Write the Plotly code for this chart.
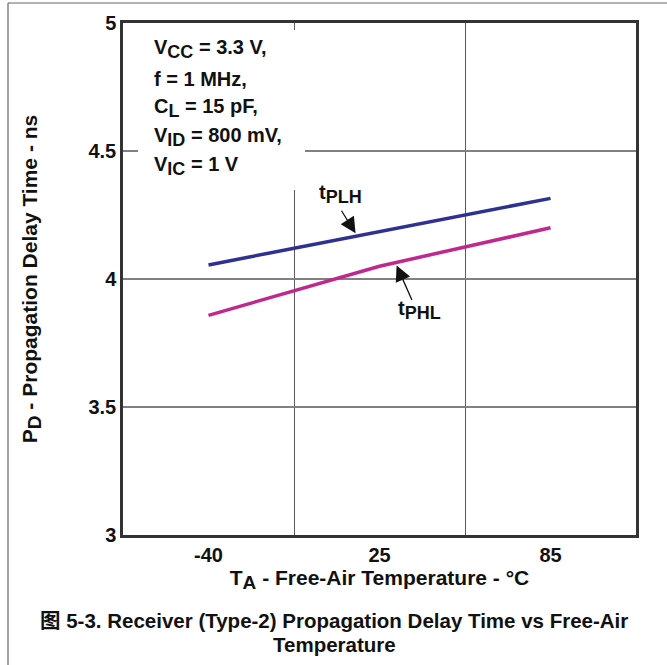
import numpy as np
import plotly.graph_objects as go

# ---- data ----
temps = ["-40", "25", "85"]              # T_A categories (°C)
t_plh = [4.055, 4.185, 4.315]            # ns
t_phl = [3.858, 4.050, 4.200]            # ns
y_ticks = [3, 3.5, 4, 4.5, 5]
y_ticktext = ["3", "3.5", "4", "4.5", "5"]


def sub(s, size):
    return f"<sub><span style='font-size:{size}px'>{s}</span></sub>"


conditions = ["V" + sub("CC", 18) + " = 3.3 V,", "f = 1 MHz,", "C" + sub("L", 18) + " = 15 pF,",
              "V" + sub("ID", 18) + " = 800 mV,", "V" + sub("IC", 18) + " = 1 V"]

FONT = "Liberation Sans, Arial, Noto Sans CJK SC, sans-serif"
BLUE = "#2e3192"
PINK = "#c0288f"
INK = "#111111"

fig = go.Figure()
fig.add_trace(go.Scatter(x=temps, y=t_plh, mode="lines", name="tPLH",
                         line=dict(color=BLUE, width=3.5)))
fig.add_trace(go.Scatter(x=temps, y=t_phl, mode="lines", name="tPHL",
                         line=dict(color=PINK, width=3.5)))

L, R, T, B = 123, 31, 23, 130
W, H = 667, 665
pw, ph = W - L - R, H - T - B


def px(x):
    return (x - L) / pw


def py(y):
    return (H - B - y) / ph


fig.update_layout(
    width=W, height=H,
    margin=dict(l=L, r=R, t=T, b=B),
    paper_bgcolor="white", plot_bgcolor="white",
    showlegend=False,
    font=dict(family=FONT, size=20, color=INK, weight="bold"),
    xaxis=dict(type="category", categoryorder="array", categoryarray=temps,
               range=[-0.5, 2.5], tickson="boundaries", ticks="",
               showgrid=True, gridcolor="#5a5a5a", gridwidth=1.2,
               showline=True, linecolor="#333333", linewidth=2.5, mirror=True,
               tickfont=dict(family=FONT, size=20, weight="bold", color=INK),
               title=dict(text="T" + sub("A", 19) + " - Free-Air Temperature - °C",
                          font=dict(family=FONT, size=21, weight="bold", color=INK),
                          standoff=4),
               fixedrange=True),
    yaxis=dict(range=[3, 5], tickvals=y_ticks, ticktext=y_ticktext, ticks="",
               showgrid=True, gridcolor="#808080", gridwidth=1.8,
               showline=True, linecolor="#333333", linewidth=2.5, mirror=True,
               zeroline=False,
               tickfont=dict(family=FONT, size=20, weight="bold", color=INK),
               title=dict(text="P" + sub("D", 19) + " - Propagation Delay Time - ns",
                          font=dict(family=FONT, size=21, weight="bold", color=INK),
                          standoff=46),
               fixedrange=True),
)

# white box behind the conditions text
fig.add_shape(type="rect", xref="paper", yref="paper",
              x0=px(138), x1=px(305), y0=py(190), y1=py(30),
              fillcolor="white", line=dict(width=0), layer="above")

cond_y = [49, 79, 108, 137, 166]
for txt, yy in zip(conditions, cond_y):
    fig.add_annotation(xref="paper", yref="paper", x=px(152), y=py(yy),
                       text=txt, showarrow=False, xanchor="left", yanchor="middle",
                       font=dict(family=FONT, size=20, weight="bold", color=INK))

idx = np.arange(len(temps))
# arrows
tip1x = 0.86
tip1y = float(np.interp(tip1x, idx, t_plh)) + 0.012
fig.add_annotation(x=tip1x, y=tip1y, xref="x", yref="y", text="", showarrow=True,
                   ax=-15, ay=-24, axref="pixel", ayref="pixel",
                   arrowhead=2, arrowsize=2.4, arrowwidth=1.3, arrowcolor=INK)
fig.add_annotation(xref="paper", yref="paper", x=px(317), y=py(194),
                   text="t" + sub("PLH", 18), showarrow=False, xanchor="left",
                   font=dict(family=FONT, size=20, weight="bold", color=INK))

tip2x = 1.10
tip2y = float(np.interp(tip2x, idx, t_phl)) - 0.012
fig.add_annotation(x=tip2x, y=tip2y, xref="x", yref="y", text="", showarrow=True,
                   ax=16, ay=36, axref="pixel", ayref="pixel",
                   arrowhead=2, arrowsize=2.4, arrowwidth=1.3, arrowcolor=INK)
fig.add_annotation(xref="paper", yref="paper", x=px(396), y=py(310),
                   text="t" + sub("PHL", 18), showarrow=False, xanchor="left",
                   font=dict(family=FONT, size=20, weight="bold", color=INK))

# caption
fig.add_annotation(xref="paper", yref="paper", x=px(334), y=py(620),
                   text="图 5-3. Receiver (Type-2) Propagation Delay Time vs Free-Air",
                   showarrow=False, xanchor="center", yanchor="middle",
                   font=dict(family=FONT, size=20.5, weight="bold", color=INK))
fig.add_annotation(xref="paper", yref="paper", x=px(334), y=py(644),
                   text="Temperature",
                   showarrow=False, xanchor="center", yanchor="middle",
                   font=dict(family=FONT, size=20.5, weight="bold", color=INK))

# frame lines around the figure
fig.add_shape(type="line", xref="paper", yref="paper", x0=px(8), x1=px(667),
              y0=py(3), y1=py(3), line=dict(color="#666666", width=1.2))
fig.add_shape(type="line", xref="paper", yref="paper", x0=px(8), x1=px(8),
              y0=py(3), y1=py(665), line=dict(color="#666666", width=1.2))

fig.write_html("out.html", config={"displayModeBar": False},
               post_script="document.body.style.margin='0';")
